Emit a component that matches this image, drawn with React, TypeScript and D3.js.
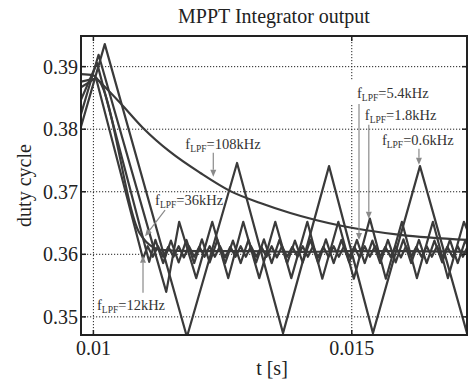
import React from 'react';
import * as d3 from 'd3';

const W = 468;
const H = 382;

const xTicks = [0.01, 0.015];
const xTickLabels = ['0.01', '0.015'];
const yTicks = [0.35, 0.36, 0.37, 0.38, 0.39];
const yTickLabels = ['0.35', '0.36', '0.37', '0.38', '0.39'];

// f_LPF = 108 kHz
const t108 = [0.00976, 0.01000, 0.01010, 0.01052, 0.01096, 0.01148, 0.01207, 0.01265, 0.01323, 0.01381, 0.01477, 0.01594, 0.01723];
const v108 = [0.3888, 0.3886, 0.3878, 0.3842, 0.3802, 0.3764, 0.3730, 0.3701, 0.3682, 0.3666, 0.3646, 0.3631, 0.3623];

// f_LPF = 36 kHz
const t36 = [0.00976, 0.01005, 0.01090, 0.01102, 0.01114, 0.01129, 0.01200, 0.01300, 0.01400, 0.01500, 0.01600, 0.01723];
const v36 = [0.3876, 0.3880, 0.3633, 0.3620, 0.3612, 0.3607, 0.3605, 0.3605, 0.3604, 0.3605, 0.3605, 0.3604];

// f_LPF = 12 kHz
const t12 = [0.00976, 0.01005, 0.01096,
  0.01105, 0.01115, 0.01125, 0.01135, 0.01145, 0.01155, 0.01165, 0.01175, 0.01185, 0.01195,
  0.01205, 0.01215, 0.01225, 0.01235, 0.01245, 0.01255, 0.01265, 0.01275, 0.01285, 0.01295,
  0.01305, 0.01315, 0.01325, 0.01335, 0.01345, 0.01355, 0.01365, 0.01375, 0.01385, 0.01395,
  0.01405, 0.01415, 0.01425, 0.01435, 0.01445, 0.01455, 0.01465, 0.01475, 0.01485, 0.01495,
  0.01505, 0.01515, 0.01525, 0.01535, 0.01545, 0.01555, 0.01565, 0.01575, 0.01585, 0.01595,
  0.01605, 0.01615, 0.01625, 0.01635, 0.01645, 0.01655, 0.01665, 0.01675, 0.01685, 0.01695,
  0.01705, 0.01715, 0.01723];
const v12 = [0.3867, 0.3882, 0.3593,
  0.3613, 0.3596, 0.3613, 0.3596, 0.3612, 0.3596, 0.3613, 0.3595, 0.3613, 0.3596,
  0.3612, 0.3596, 0.3613, 0.3596, 0.3613, 0.3595, 0.3612, 0.3596, 0.3613, 0.3596,
  0.3613, 0.3596, 0.3612, 0.3596, 0.3613, 0.3595, 0.3613, 0.3596, 0.3612, 0.3596,
  0.3613, 0.3596, 0.3613, 0.3595, 0.3612, 0.3596, 0.3613, 0.3596, 0.3613, 0.3596,
  0.3612, 0.3595, 0.3613, 0.3596, 0.3613, 0.3596, 0.3612, 0.3596, 0.3613, 0.3595,
  0.3613, 0.3596, 0.3612, 0.3596, 0.3613, 0.3596, 0.3613, 0.3595, 0.3612, 0.3596,
  0.3613, 0.3596, 0.3610];

// f_LPF = 5.4 kHz
const t54 = [0.00976, 0.01007, 0.01108,
  0.01120, 0.01135, 0.01150, 0.01165, 0.01180, 0.01195, 0.01210, 0.01225, 0.01240, 0.01255,
  0.01270, 0.01285, 0.01300, 0.01315, 0.01330, 0.01345, 0.01360, 0.01375, 0.01390, 0.01405,
  0.01420, 0.01435, 0.01450, 0.01465, 0.01480, 0.01495, 0.01510, 0.01525, 0.01540, 0.01555,
  0.01570, 0.01585, 0.01600, 0.01615, 0.01630, 0.01645, 0.01660, 0.01675, 0.01690, 0.01705,
  0.01720, 0.01723];
const v54 = [0.3847, 0.3906, 0.3588,
  0.3623, 0.3586, 0.3622, 0.3587, 0.3623, 0.3586, 0.3624, 0.3587, 0.3623, 0.3586,
  0.3622, 0.3586, 0.3623, 0.3587, 0.3624, 0.3586, 0.3623, 0.3586, 0.3622, 0.3587,
  0.3623, 0.3586, 0.3624, 0.3586, 0.3623, 0.3587, 0.3623, 0.3586, 0.3622, 0.3586,
  0.3623, 0.3587, 0.3624, 0.3586, 0.3623, 0.3586, 0.3622, 0.3587, 0.3623, 0.3586,
  0.3623, 0.3616];

// f_LPF = 1.8 kHz
const t18 = [0.00976, 0.01010, 0.01141, 0.01166, 0.01199, 0.01230, 0.01261, 0.01290, 0.01321, 0.01352, 0.01383, 0.01414, 0.01443, 0.01474, 0.01504, 0.01535, 0.01566, 0.01597, 0.01626, 0.01657, 0.01686, 0.01717, 0.01723];
const v18 = [0.3824, 0.3919, 0.3540, 0.3652, 0.3562, 0.3652, 0.3562, 0.3652, 0.3562, 0.3652, 0.3562, 0.3652, 0.3561, 0.3652, 0.3561, 0.3657, 0.3561, 0.3652, 0.3562, 0.3652, 0.3562, 0.3652, 0.3640];

// f_LPF = 0.6 kHz
const t06 = [0.00976, 0.01022, 0.01181, 0.01278, 0.01367, 0.01456, 0.01541, 0.01632, 0.01723];
const v06 = [0.3804, 0.3936, 0.3468, 0.3746, 0.3474, 0.3741, 0.3474, 0.3741, 0.3474];

const seriesLabels = ['=108kHz', '=36kHz', '=12kHz', '=5.4kHz', '=1.8kHz', '=0.6kHz'];
// arrow tip of each annotation, in data units
const arrowTipT = [0.01232, 0.01100, 0.01096, 0.01514, 0.01533, 0.01630];
const arrowTipV = [0.3724, 0.3629, 0.35975, 0.3623, 0.3657, 0.3743];

// layout of annotations (pixel offsets relative to arrow tip)
const annLayout = [
  { tail: [0, -24], text: [-28, -28] },
  { tail: [20, -26], text: [10, -31] },
  { tail: [0, 37], text: [-46, 54] },
  { tail: [0, -136], text: [-2, -142] },
  { tail: [0, -94], text: [-4, -99] },
  { tail: [0, -16], text: [-37, -20] },
];

const FONT = "'Liberation Serif', 'Times New Roman', Times, 'DejaVu Serif', serif";

function zip(t: number[], v: number[]): [number, number][] {
  return t.map((d, i) => [d, v[i]] as [number, number]);
}

export default function App() {
  const m = { l: 81, r: 467, t: 36, b: 335 };
  const x = d3.scaleLinear().domain([0.00976, 0.01723]).range([m.l, m.r]);
  const y = d3.scaleLinear().domain([0.3471, 0.3949]).range([m.b, m.t]);

  const lin = d3.line<[number, number]>().x(d => x(d[0])).y(d => y(d[1]));
  const smooth = d3.line<[number, number]>().x(d => x(d[0])).y(d => y(d[1])).curve(d3.curveMonotoneX);

  const paths = [
    smooth(zip(t108, v108)),
    smooth(zip(t36, v36)),
    lin(zip(t12, v12)),
    lin(zip(t54, v54)),
    lin(zip(t18, v18)),
    lin(zip(t06, v06)),
  ];

  const lineColor = '#3a3a3a';
  const annColor = '#8a8a8a';
  const ts: React.CSSProperties = { fontFamily: FONT };

  return (
    <svg width={W} height={H} style={{ position: 'absolute', left: 0, top: 0, background: '#fff', fontFamily: FONT }}>
      <defs>
        <clipPath id="plotclip">
          <rect x={m.l} y={m.t} width={m.r - m.l} height={m.b - m.t} />
        </clipPath>
      </defs>
      <rect x={0} y={0} width={W} height={H} fill="#fff" />
      {/* grid */}
      {xTicks.map((t, i) => (
        <line key={'gx' + i} x1={x(t)} x2={x(t)} y1={m.t} y2={m.b} stroke="#222" strokeWidth={1} strokeDasharray="1.2,1.8" />
      ))}
      {yTicks.map((v, i) => (
        <line key={'gy' + i} x1={m.l} x2={m.r} y1={y(v)} y2={y(v)} stroke="#222" strokeWidth={1} strokeDasharray="1.2,1.8" />
      ))}
      {/* label backgrounds breaking the grid */}
      <rect x={349} y={80} width={84} height={25} fill="#fff" />
      <rect x={362} y={105} width={80} height={21} fill="#fff" />
      {/* data */}
      <g clipPath="url(#plotclip)">
        {paths.map((p, i) => (
          <path key={'s' + i} d={p || ''} fill="none" stroke={lineColor} strokeWidth={2.2} strokeLinejoin="round" />
        ))}
      </g>
      {/* annotations */}
      {seriesLabels.map((lab, i) => {
        const tx = x(arrowTipT[i]);
        const ty = y(arrowTipV[i]);
        const L = annLayout[i];
        const sx = tx + L.tail[0];
        const sy = ty + L.tail[1];
        const ang = Math.atan2(ty - sy, tx - sx);
        const hl = 7, hw = 3;
        const bx = tx - hl * Math.cos(ang);
        const by = ty - hl * Math.sin(ang);
        const px = -Math.sin(ang) * hw;
        const py = Math.cos(ang) * hw;
        return (
          <g key={'a' + i}>
            <line x1={sx} y1={sy} x2={bx} y2={by} stroke={annColor} strokeWidth={1.2} />
            <polygon points={`${tx},${ty} ${bx + px},${by + py} ${bx - px},${by - py}`} fill={annColor} />
            <text x={tx + L.text[0]} y={ty + L.text[1]} fontSize={14.5} fill="#333" style={ts}>
              <tspan>f</tspan>
              <tspan fontSize={9.5} dy={3}>LPF</tspan>
              <tspan fontSize={14.5} dy={-3}>{lab}</tspan>
            </text>
          </g>
        );
      })}
      {/* box */}
      <rect x={m.l} y={m.t} width={m.r - m.l} height={m.b - m.t} fill="none" stroke="#222" strokeWidth={2} />
      {/* ticks */}
      {xTicks.map((t, i) => (
        <g key={'tx' + i}>
          <line x1={x(t)} x2={x(t)} y1={m.b} y2={m.b - 5} stroke="#222" strokeWidth={1.5} />
          <line x1={x(t)} x2={x(t)} y1={m.t} y2={m.t + 5} stroke="#222" strokeWidth={1.5} />
          <text x={x(t)} y={355} fontSize={20} textAnchor="middle" fill="#222" style={ts}>{xTickLabels[i]}</text>
        </g>
      ))}
      {yTicks.map((v, i) => (
        <g key={'ty' + i}>
          <line x1={m.l} x2={m.l + 5} y1={y(v)} y2={y(v)} stroke="#222" strokeWidth={1.5} />
          <line x1={m.r} x2={m.r - 5} y1={y(v)} y2={y(v)} stroke="#222" strokeWidth={1.5} />
          <text x={78} y={y(v) + 7} fontSize={20} textAnchor="end" fill="#222" style={ts}>{yTickLabels[i]}</text>
        </g>
      ))}
      {/* titles */}
      <text x={(m.l + m.r) / 2} y={23} fontSize={20} textAnchor="middle" fill="#222" style={ts}>MPPT Integrator output</text>
      <text x={272} y={375} fontSize={20} textAnchor="middle" fill="#222" style={ts}>t [s]</text>
      <text transform={`translate(31,${(m.t + m.b) / 2}) rotate(-90)`} fontSize={20} textAnchor="middle" fill="#222" style={ts}>duty cycle</text>
    </svg>
  );
}
